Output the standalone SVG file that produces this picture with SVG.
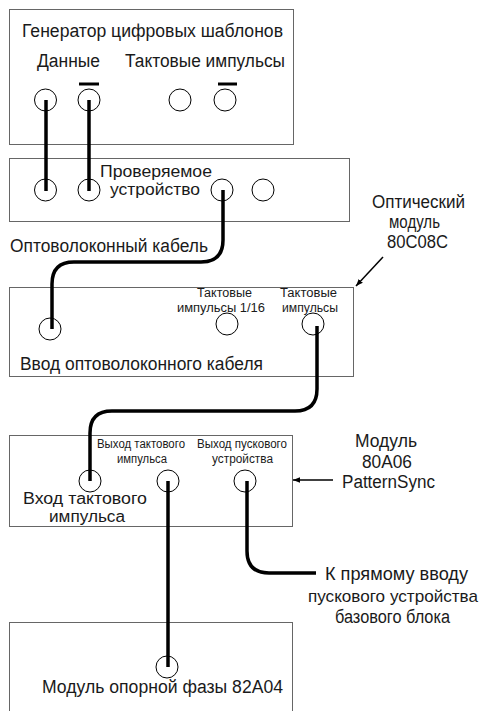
<svg xmlns="http://www.w3.org/2000/svg" width="485" height="711" viewBox="0 0 485 711">
<defs>
<style>
.box{fill:#fff;stroke:#666;stroke-width:1}
.port{fill:none;stroke:#000;stroke-width:1}
.cable{fill:none;stroke:#000;stroke-width:3.5;stroke-linecap:butt}
.bar{stroke:#000;stroke-width:3}
.ptr{stroke:#000;stroke-width:1.5;fill:none}
text{font-family:"Liberation Sans",Arial,sans-serif;fill:#1a1a1a}
.big{font-size:18px}
.tight{font-size:17px}
.tighter{font-size:16px}
.sm{font-size:12px}
</style>
<marker id="ah" viewBox="0 0 10 10" refX="10" refY="5" markerWidth="7" markerHeight="7" orient="auto" markerUnits="userSpaceOnUse">
<path d="M0,1 L10,5 L0,9 Z" fill="#000"/>
</marker>
</defs>
<rect width="485" height="711" fill="#fff"/>

<g id="generator">
<rect class="box" x="9.5" y="9.5" width="284" height="135"/>
<text class="big" x="22" y="37" textLength="261" lengthAdjust="spacingAndGlyphs">Генератор цифровых шаблонов</text>
<text class="big" x="37" y="67" textLength="63" lengthAdjust="spacingAndGlyphs">Данные</text>
<text class="big" x="125" y="67" textLength="160" lengthAdjust="spacingAndGlyphs">Тактовые импульсы</text>
<line class="bar" x1="79" y1="84" x2="99" y2="84"/>
<line class="bar" x1="218" y1="84" x2="237" y2="84"/>
<circle class="port" cx="45.5" cy="100" r="11"/>
<circle class="port" cx="89" cy="100" r="11"/>
<circle class="port" cx="180" cy="100" r="11"/>
<circle class="port" cx="225" cy="100" r="11"/>
</g>

<g id="dut">
<rect class="box" x="9.5" y="158.5" width="340" height="63"/>
<text class="tight" x="100" y="177" textLength="112" lengthAdjust="spacingAndGlyphs">Проверяемое</text>
<text class="tight" x="110" y="195" textLength="90" lengthAdjust="spacingAndGlyphs">устройство</text>
<circle class="port" cx="45.5" cy="190" r="11"/>
<circle class="port" cx="89" cy="190" r="11"/>
<circle class="port" cx="222" cy="190" r="11"/>
<circle class="port" cx="263" cy="190" r="11"/>
</g>

<g id="cable-label">
<text class="big" x="10" y="252" textLength="198" lengthAdjust="spacingAndGlyphs">Оптоволоконный кабель</text>
</g>

<g id="optical">
<rect class="box" x="9.5" y="287.5" width="344" height="89"/>
<text class="sm" x="197" y="297" textLength="55" lengthAdjust="spacingAndGlyphs">Тактовые</text>
<text class="sm" x="177" y="312" textLength="88" lengthAdjust="spacingAndGlyphs">импульсы 1/16</text>
<text class="sm" x="280" y="297" textLength="57" lengthAdjust="spacingAndGlyphs">Тактовые</text>
<text class="sm" x="282" y="312" textLength="56" lengthAdjust="spacingAndGlyphs">импульсы</text>
<circle class="port" cx="50" cy="329" r="11"/>
<circle class="port" cx="227" cy="324" r="11"/>
<circle class="port" cx="313" cy="324" r="11"/>
<text class="big" x="20" y="370" textLength="243" lengthAdjust="spacingAndGlyphs">Ввод оптоволоконного кабеля</text>
</g>

<g id="optical-label">
<text class="big" x="372" y="208" textLength="93" lengthAdjust="spacingAndGlyphs">Оптический</text>
<text class="big" x="389" y="228" textLength="51" lengthAdjust="spacingAndGlyphs">модуль</text>
<text class="big" x="387" y="248" textLength="61" lengthAdjust="spacingAndGlyphs">80C08C</text>
</g>

<g id="patternsync">
<rect class="box" x="9.5" y="435.5" width="283" height="91"/>
<text class="sm" x="97" y="448" textLength="88" lengthAdjust="spacingAndGlyphs">Выход тактового</text>
<text class="sm" x="117" y="463" textLength="50" lengthAdjust="spacingAndGlyphs">импульса</text>
<text class="sm" x="197" y="448" textLength="90" lengthAdjust="spacingAndGlyphs">Выход пускового</text>
<text class="sm" x="212" y="463" textLength="61" lengthAdjust="spacingAndGlyphs">устройства</text>
<circle class="port" cx="90" cy="481" r="11"/>
<circle class="port" cx="168" cy="481" r="11"/>
<circle class="port" cx="245" cy="481" r="11"/>
<text class="tighter" x="23" y="504" textLength="124" lengthAdjust="spacingAndGlyphs">Вход тактового</text>
<text class="tighter" x="49" y="522" textLength="76" lengthAdjust="spacingAndGlyphs">импульса</text>
</g>

<g id="patternsync-label">
<text class="big" x="355" y="447" textLength="62" lengthAdjust="spacingAndGlyphs">Модуль</text>
<text class="big" x="362" y="468" textLength="50" lengthAdjust="spacingAndGlyphs">80A06</text>
<text class="big" x="342" y="488" textLength="93" lengthAdjust="spacingAndGlyphs">PatternSync</text>
</g>

<g id="trigger-label">
<text class="big" x="325" y="580" textLength="143" lengthAdjust="spacingAndGlyphs">К прямому вводу</text>
<text class="tight" x="308" y="602" textLength="170" lengthAdjust="spacingAndGlyphs">пускового устройства</text>
<text class="big" x="335" y="623" textLength="115" lengthAdjust="spacingAndGlyphs">базового блока</text>
</g>

<g id="phase-ref">
<rect class="box" x="9.5" y="622.5" width="283" height="100"/>
<circle class="port" cx="167" cy="667" r="11"/>
<text class="big" x="42" y="693" textLength="241" lengthAdjust="spacingAndGlyphs">Модуль опорной фазы 82A04</text>
</g>

<g id="connectors">
<path class="cable" d="M46,100 V191"/>
<path class="cable" d="M89,100 V191"/>
<path class="cable" d="M223,190 V240 Q223,262 201,262 H74 Q52,262 52,284 V329"/>
<path class="cable" d="M317,326 V389 Q317,411 295,411 H112 Q90,411 90,433 V481"/>
<path class="cable" d="M168,481 V667"/>
<path class="cable" d="M247,481 V551 Q247,573 269,573 H316"/>
<line class="ptr" x1="383" y1="257" x2="356" y2="286" marker-end="url(#ah)"/>
<line class="ptr" x1="333" y1="480" x2="293" y2="480" marker-end="url(#ah)"/>
</g>
</svg>
